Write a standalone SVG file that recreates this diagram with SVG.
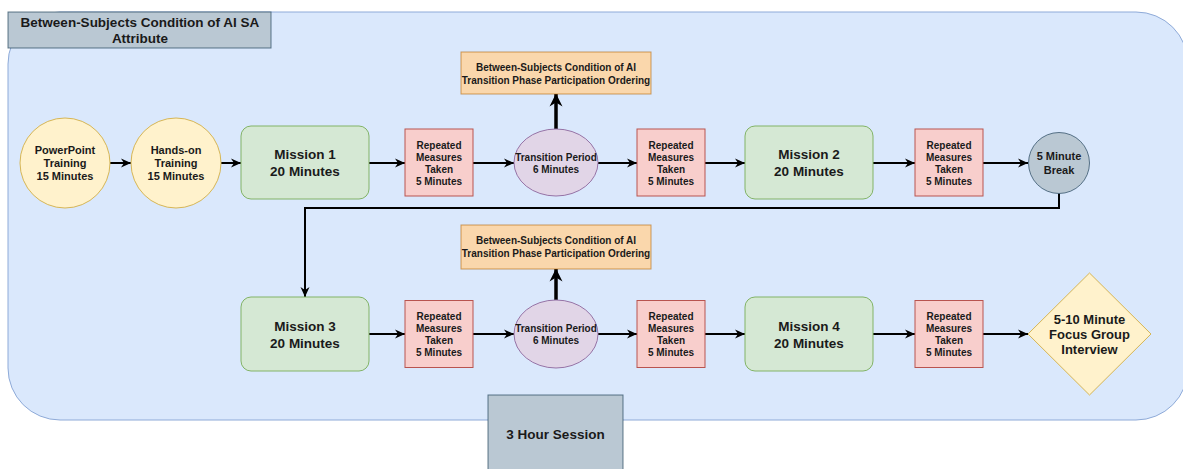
<svg xmlns="http://www.w3.org/2000/svg" width="1183" height="469" viewBox="0 0 1183 469">
<style>
text{font-family:"Liberation Sans",Arial,Helvetica,sans-serif;font-weight:bold;fill:#1a1a1a;text-anchor:middle}
.t10{font-size:10px}
.t11{font-size:11px}
.t13{font-size:13px}
.t135{font-size:13.5px}
.green{fill:#d5e8d4;stroke:#82b366;stroke-width:1}
.red{fill:#f8cecc;stroke:#b85450;stroke-width:1}
.purple{fill:#e1d5e7;stroke:#9673a6;stroke-width:1}
.yellow{fill:#fff2cc;stroke:#d6b656;stroke-width:1}
.orange{fill:#fad7ac;stroke:#b46504;stroke-width:1;stroke-opacity:0.6}
.gray{fill:#bac8d3;stroke:#23445d;stroke-width:1;stroke-opacity:0.7}
.conn{fill:none;stroke:#000;stroke-width:2;marker-end:url(#arr)}
.thick{fill:none;stroke:#000;stroke-width:3.5;marker-end:url(#arrBig)}
</style>
<defs>
<marker id="arr" markerUnits="userSpaceOnUse" markerWidth="11" markerHeight="10" refX="10" refY="5" orient="auto">
<path d="M0,0.5 L10,5 L0,9.5 L3,5 z" fill="#000"/>
</marker>
<marker id="arrBig" markerUnits="userSpaceOnUse" markerWidth="14" markerHeight="14" refX="12.5" refY="7" orient="auto">
<path d="M0,0.5 L13,7 L0,13.5 L4,7 z" fill="#000"/>
</marker>
</defs>

<g id="container">
<rect x="8" y="12" width="1180" height="408" rx="52" ry="52" fill="#dae8fc" stroke="#8eaad8" stroke-width="1"/>
</g>

<g id="title">
<rect class="gray" x="8" y="12" width="263" height="36"/>
<text class="t135" x="140" y="26.7">Between-Subjects Condition of AI SA</text>
<text class="t135" x="140" y="42.7">Attribute</text>
</g>

<g id="connectors">
<path class="conn" d="M110,163 H131"/>
<path class="conn" d="M221,163 H241"/>
<path class="conn" d="M369,163 H405"/>
<path class="conn" d="M473,163 H514"/>
<path class="conn" d="M598,163 H637"/>
<path class="conn" d="M705,163 H745"/>
<path class="conn" d="M873,163 H915"/>
<path class="conn" d="M983,163 H1028"/>
<path class="conn" d="M1059,193.5 V208 H305 V297"/>
<path class="thick" d="M556,129 V94"/>
<path class="conn" d="M369,334 H405"/>
<path class="conn" d="M473,334 H514"/>
<path class="conn" d="M598,334 H637"/>
<path class="conn" d="M705,334 H745"/>
<path class="conn" d="M873,334 H915"/>
<path class="conn" d="M983,334 H1028"/>
<path class="thick" d="M556,300 V269"/>
</g>

<g id="ppt">
<circle class="yellow" cx="65" cy="163" r="45"/>
<text class="t11" x="65" y="154">PowerPoint</text>
<text class="t11" x="65" y="167">Training</text>
<text class="t11" x="65" y="180">15 Minutes</text>
</g>

<g id="handson">
<circle class="yellow" cx="176" cy="163" r="45"/>
<text class="t11" x="176" y="154">Hands-on</text>
<text class="t11" x="176" y="167">Training</text>
<text class="t11" x="176" y="180">15 Minutes</text>
</g>

<g id="mission1">
<rect class="green" x="241" y="126" width="128" height="73" rx="10"/>
<text class="t135" x="305" y="158.7">Mission 1</text>
<text class="t135" x="305" y="175.7">20 Minutes</text>
</g>

<g id="rm1">
<rect class="red" x="405" y="129" width="68" height="67"/>
<text class="t10" x="439" y="148.5">Repeated</text>
<text class="t10" x="439" y="160.5">Measures</text>
<text class="t10" x="439" y="172.5">Taken</text>
<text class="t10" x="439" y="184.5">5 Minutes</text>
</g>

<g id="transition1">
<ellipse class="purple" cx="556" cy="162.5" rx="42" ry="33.5"/>
<text class="t10" x="556" y="160.5">Transition Period</text>
<text class="t10" x="556" y="172.5">6 Minutes</text>
</g>

<g id="ordering1">
<rect class="orange" x="461" y="52" width="190" height="42"/>
<text class="t10" x="556" y="70.5">Between-Subjects Condition of AI</text>
<text class="t10" x="556" y="83.5">Transition Phase Participation Ordering</text>
</g>

<g id="rm2">
<rect class="red" x="637" y="129" width="68" height="67"/>
<text class="t10" x="671" y="148.5">Repeated</text>
<text class="t10" x="671" y="160.5">Measures</text>
<text class="t10" x="671" y="172.5">Taken</text>
<text class="t10" x="671" y="184.5">5 Minutes</text>
</g>

<g id="mission2">
<rect class="green" x="745" y="126" width="128" height="73" rx="10"/>
<text class="t135" x="809" y="158.7">Mission 2</text>
<text class="t135" x="809" y="175.7">20 Minutes</text>
</g>

<g id="rm3">
<rect class="red" x="915" y="129" width="68" height="67"/>
<text class="t10" x="949" y="148.5">Repeated</text>
<text class="t10" x="949" y="160.5">Measures</text>
<text class="t10" x="949" y="172.5">Taken</text>
<text class="t10" x="949" y="184.5">5 Minutes</text>
</g>

<g id="break">
<circle class="gray" cx="1059" cy="163" r="30.5"/>
<text class="t11" x="1059" y="160">5 Minute</text>
<text class="t11" x="1059" y="174">Break</text>
</g>

<g id="mission3">
<rect class="green" x="241" y="297" width="128" height="74" rx="10"/>
<text class="t135" x="305" y="330.5">Mission 3</text>
<text class="t135" x="305" y="347.5">20 Minutes</text>
</g>

<g id="rm4">
<rect class="red" x="405" y="300.5" width="68" height="67"/>
<text class="t10" x="439" y="319.5">Repeated</text>
<text class="t10" x="439" y="331.5">Measures</text>
<text class="t10" x="439" y="343.5">Taken</text>
<text class="t10" x="439" y="355.5">5 Minutes</text>
</g>

<g id="transition2">
<ellipse class="purple" cx="556" cy="334" rx="42" ry="34"/>
<text class="t10" x="556" y="332">Transition Period</text>
<text class="t10" x="556" y="344">6 Minutes</text>
</g>

<g id="ordering2">
<rect class="orange" x="461" y="225" width="190" height="44"/>
<text class="t10" x="556" y="244.2">Between-Subjects Condition of AI</text>
<text class="t10" x="556" y="256.7">Transition Phase Participation Ordering</text>
</g>

<g id="rm5">
<rect class="red" x="637" y="300.5" width="68" height="67"/>
<text class="t10" x="671" y="319.5">Repeated</text>
<text class="t10" x="671" y="331.5">Measures</text>
<text class="t10" x="671" y="343.5">Taken</text>
<text class="t10" x="671" y="355.5">5 Minutes</text>
</g>

<g id="mission4">
<rect class="green" x="745" y="297" width="128" height="74" rx="10"/>
<text class="t135" x="809" y="330.5">Mission 4</text>
<text class="t135" x="809" y="347.5">20 Minutes</text>
</g>

<g id="rm6">
<rect class="red" x="915" y="300.5" width="68" height="67"/>
<text class="t10" x="949" y="319.5">Repeated</text>
<text class="t10" x="949" y="331.5">Measures</text>
<text class="t10" x="949" y="343.5">Taken</text>
<text class="t10" x="949" y="355.5">5 Minutes</text>
</g>

<g id="interview">
<polygon class="yellow" points="1028,334 1089.5,273 1151,334 1089.5,395"/>
<text class="t13" x="1089.5" y="324">5-10 Minute</text>
<text class="t13" x="1089.5" y="339">Focus Group</text>
<text class="t13" x="1089.5" y="354">Interview</text>
</g>

<g id="session">
<rect class="gray" x="488" y="395" width="135" height="78"/>
<text class="t135" x="555.5" y="438.7">3 Hour Session</text>
</g>
</svg>
